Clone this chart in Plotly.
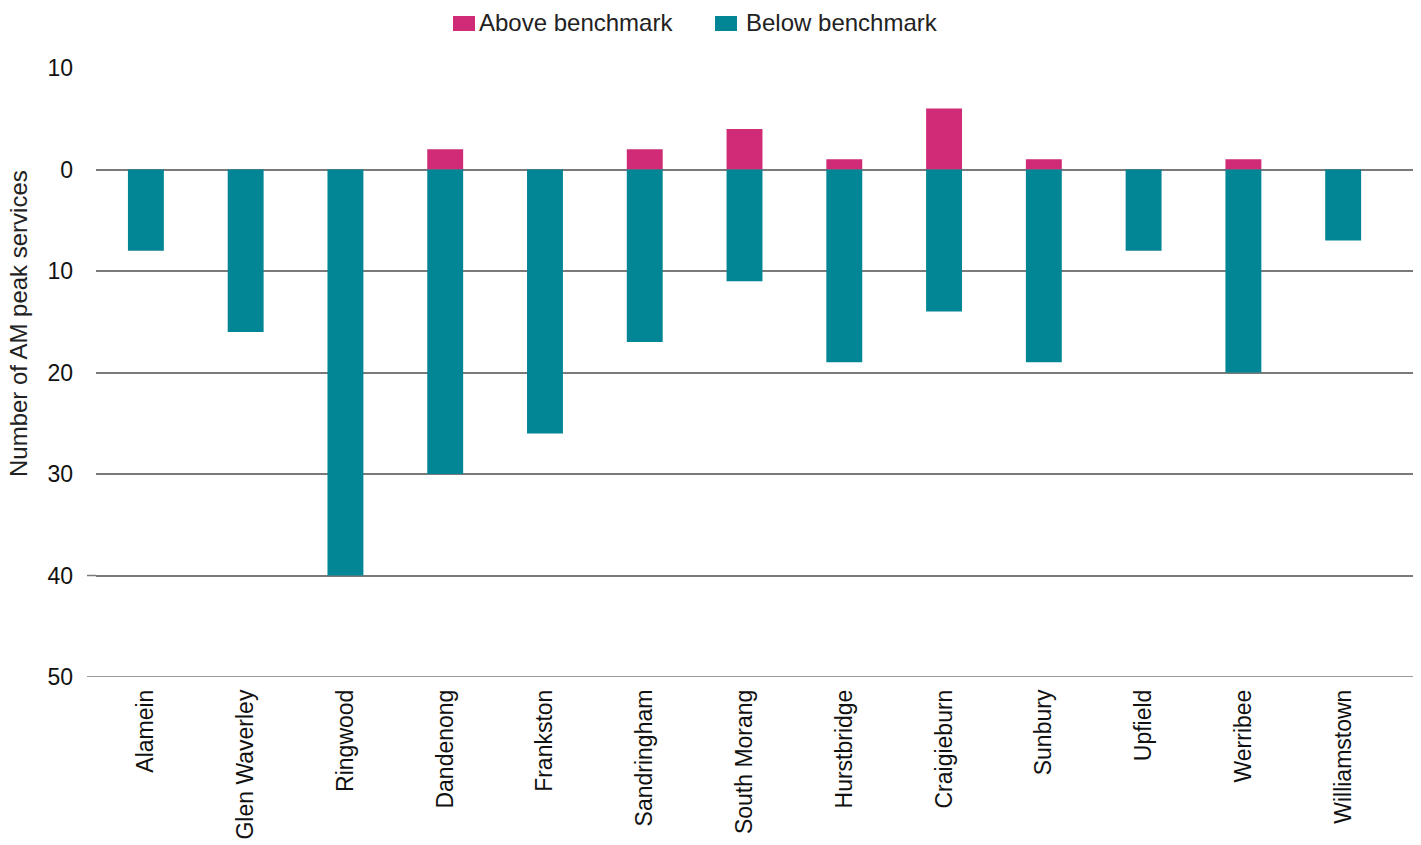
import plotly.graph_objects as go

lines = ["Alamein", "Glen Waverley", "Ringwood", "Dandenong", "Frankston", "Sandringham",
         "South Morang", "Hurstbridge", "Craigieburn", "Sunbury", "Upfield", "Werribee", "Williamstown"]
above = [0, 0, 0, 2, 0, 2, 4, 1, 6, 1, 0, 1, 0]
below = [8, 16, 40, 30, 26, 17, 11, 19, 14, 19, 8, 20, 7]

tick_vals = [10, 0, -10, -20, -30, -40, -50]
tick_text = ["10", "0", "10", "20", "30", "40", "50"]

PINK = "#D02B76"
TEAL = "#028696"
GRID = "#7a7a7a"
FONT = "Liberation Sans, Arial, sans-serif"

W, H = 1421, 845
L, R, T, B = 96, 8, 68, 168
PW, PH = W - L - R, H - T - B

def px(x):
    return (x - L) / PW

def py(y):
    return (H - B - y) / PH

fig = go.Figure()
fig.add_trace(go.Bar(x=lines, y=above, name="Above benchmark", marker_color=PINK,
                     marker_line_width=0, width=0.36, showlegend=False))
fig.add_trace(go.Bar(x=lines, y=[-v for v in below], name="Below benchmark", marker_color=TEAL,
                     marker_line_width=0, width=0.36, showlegend=False))

shapes = []
# extended gridlines for 40 and 50
shapes.append(dict(type="line", xref="paper", yref="y", x0=px(87), x1=0, y0=-40, y1=-40,
                   line=dict(color=GRID, width=1.5)))
shapes.append(dict(type="line", xref="paper", yref="y", x0=px(87), x1=1, y0=-50, y1=-50,
                   line=dict(color=GRID, width=1.5)))
# manual legend swatches
shapes.append(dict(type="rect", xref="paper", yref="paper", x0=px(453), x1=px(475),
                   y0=py(31), y1=py(16), fillcolor=PINK, line_width=0))
shapes.append(dict(type="rect", xref="paper", yref="paper", x0=px(715), x1=px(737),
                   y0=py(31), y1=py(16), fillcolor=TEAL, line_width=0))

annotations = [
    dict(text="Above benchmark", xref="paper", yref="paper", x=px(477), y=py(23),
         xanchor="left", yanchor="middle", showarrow=False,
         font=dict(family=FONT, size=24, color="#222")),
    dict(text="Below benchmark", xref="paper", yref="paper", x=px(744), y=py(23),
         xanchor="left", yanchor="middle", showarrow=False,
         font=dict(family=FONT, size=24, color="#222")),
    dict(text="Number of AM peak services", xref="paper", yref="paper", x=px(18), y=py(324),
         xanchor="center", yanchor="middle", textangle=-90, showarrow=False,
         font=dict(family=FONT, size=24, color="#222")),
]

fig.update_layout(
    width=W, height=H,
    margin=dict(l=L, r=R, t=T, b=B, pad=0, autoexpand=False),
    paper_bgcolor="white", plot_bgcolor="white",
    barmode="relative",
    bargap=0.64,
    shapes=shapes,
    annotations=annotations,
    font=dict(family=FONT, color="#111"),
    xaxis=dict(range=[-0.5, 12.7], tickangle=-90, showgrid=False, showline=False,
               zeroline=False, ticks="", tickfont=dict(family=FONT, size=23, color="#111"),
               ticklabelstandoff=7, fixedrange=True, automargin=False),
    yaxis=dict(range=[-50, 10], tickvals=tick_vals, ticktext=tick_text,
               showgrid=True, gridcolor=GRID, gridwidth=1.5,
               zeroline=True, zerolinecolor=GRID, zerolinewidth=1.5,
               showline=False, ticks="", ticklabelstandoff=22, automargin=False,
               tickfont=dict(family=FONT, size=23, color="#111"), fixedrange=True),
)

fig.write_html("out.html")
